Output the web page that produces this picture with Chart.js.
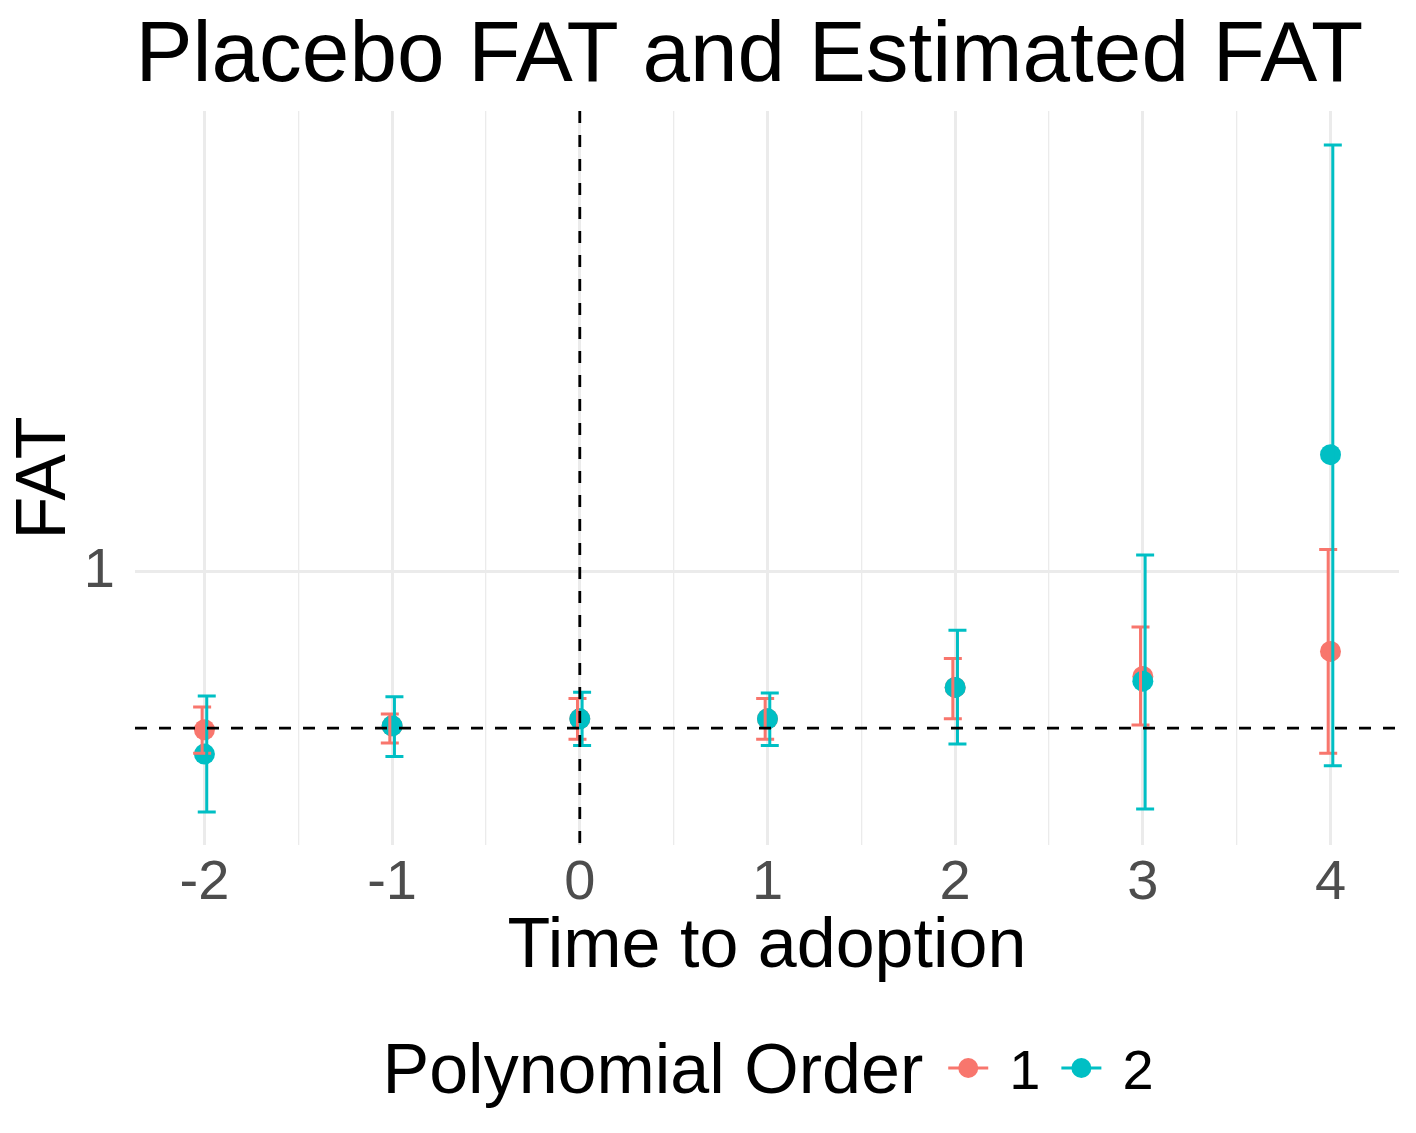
<!DOCTYPE html>
<html>
<head>
<meta charset="utf-8">
<title>Placebo FAT and Estimated FAT</title>
<script src="https://cdn.jsdelivr.net/npm/chart.js@4.4.1/dist/chart.umd.min.js"></script>
<style>
  html, body { margin: 0; padding: 0; background: #ffffff; }
  canvas { display: block; }
</style>
</head>
<body>
<canvas id="chart-fat" width="1416" height="1133"></canvas>
<script>
var time = [-2, -1, 0, 1, 2, 3, 4]
var xTickLabels = ['-2', '-1', '0', '1', '2', '3', '4']
var xMinorTicks = [-1.5, -0.5, 0.5, 1.5, 2.5, 3.5]
var yTicks = [1]
var yTickLabels = ['1']
var orders = ['1', '2']
var colors = ['#F8766D', '#00BFC4']

// polynomial order 1
var fat1 = [-0.01, 0.015, 0.06, 0.06, 0.26, 0.33, 0.49]
var fat1Low = [-0.16, -0.095, -0.07, -0.07, 0.06, 0.02, -0.16]
var fat1High = [0.135, 0.09, 0.19, 0.19, 0.445, 0.645, 1.14]

// polynomial order 2
var fat2 = [-0.165, 0.015, 0.06, 0.06, 0.26, 0.30, 1.745]
var fat2Low = [-0.535, -0.18, -0.11, -0.11, -0.10, -0.515, -0.24]
var fat2High = [0.205, 0.20, 0.23, 0.225, 0.625, 1.105, 3.72]

var chartTitle = 'Placebo FAT and Estimated FAT'
var legendTitle = 'Polynomial Order'
var fontFamily = '"Liberation Sans", Arial, Helvetica, sans-serif'

function points(values) {
  return time.map(function (t, i) {
    return { x: t, y: values[i] }
  })
}

var fatExtras = {
  id: 'fatExtras',
  afterDatasetsDraw: function (chart) {
    var ctx = chart.ctx
    var sx = chart.scales.x
    var sy = chart.scales.y
    var area = chart.chartArea
    var bars = [
      { lo: fat1Low, hi: fat1High, color: colors[0], dodge: -0.0123 },
      { lo: fat2Low, hi: fat2High, color: colors[1], dodge: 0.0123 }
    ]

    ctx.save()
    ctx.lineWidth = 3
    bars.forEach(function (b) {
      ctx.strokeStyle = b.color
      time.forEach(function (t, i) {
        var px = sx.getPixelForValue(t + b.dodge)
        var top = sy.getPixelForValue(b.hi[i])
        var bottom = sy.getPixelForValue(b.lo[i])
        ctx.beginPath()
        ctx.moveTo(px, top)
        ctx.lineTo(px, bottom)
        ctx.moveTo(px - 9, top)
        ctx.lineTo(px + 9, top)
        ctx.moveTo(px - 9, bottom)
        ctx.lineTo(px + 9, bottom)
        ctx.stroke()
      })
    })

    // dashed reference lines at 0
    ctx.strokeStyle = '#000000'
    ctx.lineWidth = 2.8
    ctx.setLineDash([12, 12])
    var y0 = sy.getPixelForValue(0)
    var x0 = sx.getPixelForValue(0)
    ctx.beginPath()
    ctx.moveTo(area.left, y0)
    ctx.lineTo(area.right, y0)
    ctx.stroke()
    ctx.beginPath()
    ctx.moveTo(x0, area.top)
    ctx.lineTo(x0, area.bottom)
    ctx.stroke()
    ctx.restore()
  },
  afterDraw: function (chart) {
    var ctx = chart.ctx
    var area = chart.chartArea
    ctx.save()

    // title, left aligned with the panel
    ctx.fillStyle = '#000000'
    ctx.textAlign = 'left'
    ctx.textBaseline = 'alphabetic'
    ctx.font = '85.5px ' + fontFamily
    ctx.fillText(chartTitle, area.left + 0.5, 81)

    // legend: title then key + label for each order
    var keyW = 40
    var cy = 1068
    ctx.font = '70px ' + fontFamily
    var wTitle = ctx.measureText(legendTitle).width
    ctx.font = '56px ' + fontFamily
    var wLabels = orders.map(function (o) { return ctx.measureText(o).width })
    var total = wTitle + 25
    wLabels.forEach(function (w, i) {
      total += keyW + 21 + w + (i < wLabels.length - 1 ? 21 : 0)
    })
    var x = (area.left + area.right) / 2 - total / 2 + 1

    ctx.font = '70px ' + fontFamily
    ctx.fillText(legendTitle, x, 1093)
    x += wTitle + 25

    orders.forEach(function (o, i) {
      ctx.strokeStyle = colors[i]
      ctx.fillStyle = colors[i]
      ctx.lineWidth = 2.8
      ctx.beginPath()
      ctx.moveTo(x, cy)
      ctx.lineTo(x + keyW, cy)
      ctx.stroke()
      ctx.beginPath()
      ctx.arc(x + keyW / 2, cy, 10, 0, Math.PI * 2)
      ctx.fill()
      x += keyW + 21
      ctx.fillStyle = '#000000'
      ctx.font = '56px ' + fontFamily
      ctx.fillText(o, x, 1089)
      x += wLabels[i] + 21
    })
    ctx.restore()
  }
}

new Chart(document.getElementById('chart-fat'), {
  type: 'scatter',
  data: {
    datasets: [{
      label: orders[0],
      data: points(fat1),
      backgroundColor: colors[0],
      borderWidth: 0,
      pointRadius: 10.5,
      pointHoverRadius: 10.5,
      order: 1
    }, {
      label: orders[1],
      data: points(fat2),
      backgroundColor: colors[1],
      borderWidth: 0,
      pointRadius: 10.5,
      pointHoverRadius: 10.5,
      order: 0
    }]
  },
  options: {
    responsive: false,
    animation: false,
    devicePixelRatio: 1,
    events: [],
    layout: {
      padding: { top: 111, right: 17, bottom: 143, left: 0 }
    },
    plugins: {
      legend: { display: false },
      title: { display: false },
      tooltip: { enabled: false }
    },
    scales: {
      x: {
        type: 'linear',
        min: -2.37,
        max: 4.365,
        afterBuildTicks: function (scale) {
          scale.ticks = time.concat(xMinorTicks).sort(function (a, b) { return a - b })
            .map(function (v) { return { value: v } })
        },
        afterFit: function (scale) { scale.height = 145 },
        ticks: {
          autoSkip: false,
          maxRotation: 0,
          padding: 5,
          color: '#4D4D4D',
          font: { family: fontFamily, size: 56 },
          callback: function (value) {
            var i = time.indexOf(value)
            return i >= 0 ? xTickLabels[i] : ''
          }
        },
        grid: {
          color: '#EBEBEB',
          drawTicks: false,
          lineWidth: function (c) {
            return c.tick && Number.isInteger(c.tick.value) ? 3 : 1.3
          }
        },
        border: { display: false },
        title: {
          display: true,
          text: 'Time to adoption',
          color: '#000000',
          font: { family: fontFamily, size: 70 },
          padding: { top: 0, bottom: 0 }
        }
      },
      y: {
        type: 'linear',
        min: -0.745,
        max: 3.937,
        afterBuildTicks: function (scale) {
          scale.ticks = yTicks.map(function (v) { return { value: v } })
        },
        afterFit: function (scale) { scale.width = 135 },
        ticks: {
          padding: 20,
          color: '#4D4D4D',
          font: { family: fontFamily, size: 56 },
          callback: function (value) {
            var i = yTicks.indexOf(value)
            return i >= 0 ? yTickLabels[i] : ''
          }
        },
        grid: {
          color: '#EBEBEB',
          drawTicks: false,
          lineWidth: 3
        },
        border: { display: false },
        title: {
          display: true,
          text: 'FAT',
          color: '#000000',
          font: { family: fontFamily, size: 70 },
          padding: { top: 4, bottom: 0 }
        }
      }
    }
  },
  plugins: [fatExtras]
})
</script>
</body>
</html>
